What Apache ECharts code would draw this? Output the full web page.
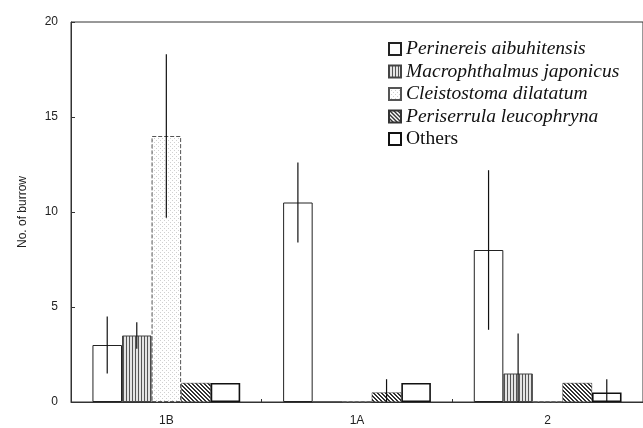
<!DOCTYPE html>
<html>
<head>
<meta charset="utf-8">
<script src="https://cdn.jsdelivr.net/npm/echarts@6/dist/echarts.min.js"></script>
<style>html,body{margin:0;padding:0;background:#fff;}#c{width:643px;height:428px;}</style>
</head>
<body>
<div id="c"></div>
<script>
const categories = ['1B', '1A', '2'];
const seriesNames = ['Perinereis aibuhitensis', 'Macrophthalmus japonicus', 'Cleistostoma dilatatum', 'Periserrula leucophryna', 'Others'];
const perinereis = [3, 10.5, 8];
const macrophthalmus = [3.5, 0, 1.5];
const cleistostoma = [14, 0, 0];
const periserrula = [1, 0.5, 1];
const others = [1, 1, 0.5];
const perinereisErr = [1.5, 2.1, 4.2];
const macrophthalmusErr = [0.7, 0, 2.1];
const cleistostomaErr = [4.3, 0, 0];
const periserrulaErr = [0, 0.7, 0];
const othersErr = [0, 0, 0.7];
const yTicks = [0, 5, 10, 15, 20];

const values = [perinereis, macrophthalmus, cleistostoma, periserrula, others];
const errors = [perinereisErr, macrophthalmusErr, cleistostomaErr, periserrulaErr, othersErr];

function makePattern(w, h, bg, draw) {
  const c = document.createElement('canvas');
  c.width = w; c.height = h;
  const ctx = c.getContext('2d');
  ctx.fillStyle = bg; ctx.fillRect(0, 0, w, h);
  draw(ctx);
  return { image: c, repeat: 'repeat' };
}
const stripePat = makePattern(3, 3, '#e4e4e4', ctx => { ctx.fillStyle = '#555'; ctx.fillRect(0, 0, 1, 3); });
const hatchPat = makePattern(4, 4, '#ffffff', ctx => {
  ctx.fillStyle = '#333';
  for (let i = 0; i < 4; i++) { ctx.fillRect(i, i, 1, 1); ctx.fillRect((i + 1) % 4, i, 1, 1); }
});
const dotPat = makePattern(4, 4, '#ffffff', ctx => {
  ctx.fillStyle = '#d0d0d0'; ctx.fillRect(0, 0, 1, 1); ctx.fillRect(2, 2, 1, 1);
});

const styles = [
  { color: '#ffffff', borderColor: '#222', borderWidth: 1 },
  { color: stripePat, borderColor: '#444', borderWidth: 1 },
  { color: dotPat, borderColor: '#555', borderWidth: 1, borderType: 'dashed' },
  { color: hatchPat, borderColor: '#333', borderWidth: 0.5 },
  { color: '#ffffff', borderColor: '#111', borderWidth: 1.6 }
];

const GAP = 0.225;
const barSeries = seriesNames.map((n, i) => ({
  name: n, type: 'bar', data: values[i], barGap: '0%', barCategoryGap: (GAP * 100) + '%',
  itemStyle: styles[i], emphasis: { disabled: true }, animation: false
}));

const errData = [];
errors.forEach((arr, s) => arr.forEach((e, c) => { if (e > 0) errData.push([c, s, values[s][c], e]); }));

const errSeries = {
  name: 'err', type: 'custom', data: errData, encode: { x: 0, y: 2 }, z: 5, animation: false,
  renderItem: function (params, api) {
    const c = api.value(0), s = api.value(1), v = api.value(2), e = api.value(3);
    const center = api.coord([c, v]);
    const band = api.size([1, 0])[0];
    const bw = band * (1 - GAP) / seriesNames.length;
    const x = center[0] + (s - (seriesNames.length - 1) / 2) * bw;
    const top = api.coord([c, v + e])[1];
    const bot = api.coord([c, Math.max(0, v - e)])[1];
    return { type: 'line', shape: { x1: x, y1: top, x2: x, y2: bot }, style: { stroke: '#111', lineWidth: 1.2 } };
  }
};

const chart = echarts.init(document.getElementById('c'), null, { renderer: 'canvas' });
chart.setOption({
  backgroundColor: '#ffffff',
  animation: false,
  grid: { left: 71, right: -1, top: 22, bottom: 26, show: true, borderColor: '#333', borderWidth: 1, backgroundColor: 'transparent' },
  legend: {
    data: seriesNames, left: 383, top: 34, orient: 'vertical', itemWidth: 12, itemHeight: 12, itemGap: 2.5,
    icon: 'rect',
    formatter: n => n === 'Others' ? '{n|' + n + '}' : '{i|' + n + '}',
    textStyle: {
      rich: {
        i: { fontFamily: 'Liberation Serif', fontStyle: 'italic', fontSize: 19.5, color: '#111', lineHeight: 19.5 },
        n: { fontFamily: 'Liberation Serif', fontSize: 19.5, color: '#111', lineHeight: 19.5 }
      }
    },
    selectedMode: false
  },
  xAxis: {
    type: 'category', data: categories,
    axisLine: { lineStyle: { color: '#333' } },
    axisTick: { show: true, inside: true, length: 3, lineStyle: { color: '#333' } },
    axisLabel: { fontFamily: 'Liberation Sans', fontSize: 12, color: '#222', margin: 13 },
    splitLine: { show: false }
  },
  yAxis: {
    type: 'value', min: yTicks[0], max: yTicks[yTicks.length - 1], interval: yTicks[1] - yTicks[0],
    name: 'No. of burrow', nameLocation: 'middle', nameGap: 42,
    nameTextStyle: { fontFamily: 'Liberation Sans', fontSize: 12, color: '#222' },
    axisLine: { show: true, lineStyle: { color: '#333' } },
    axisTick: { show: true, inside: true, length: 4, lineStyle: { color: '#333' } },
    axisLabel: { fontFamily: 'Liberation Sans', fontSize: 12, color: '#222', margin: 13 },
    splitLine: { show: false }
  },
  series: barSeries.concat([errSeries])
});
</script>
</body>
</html>
